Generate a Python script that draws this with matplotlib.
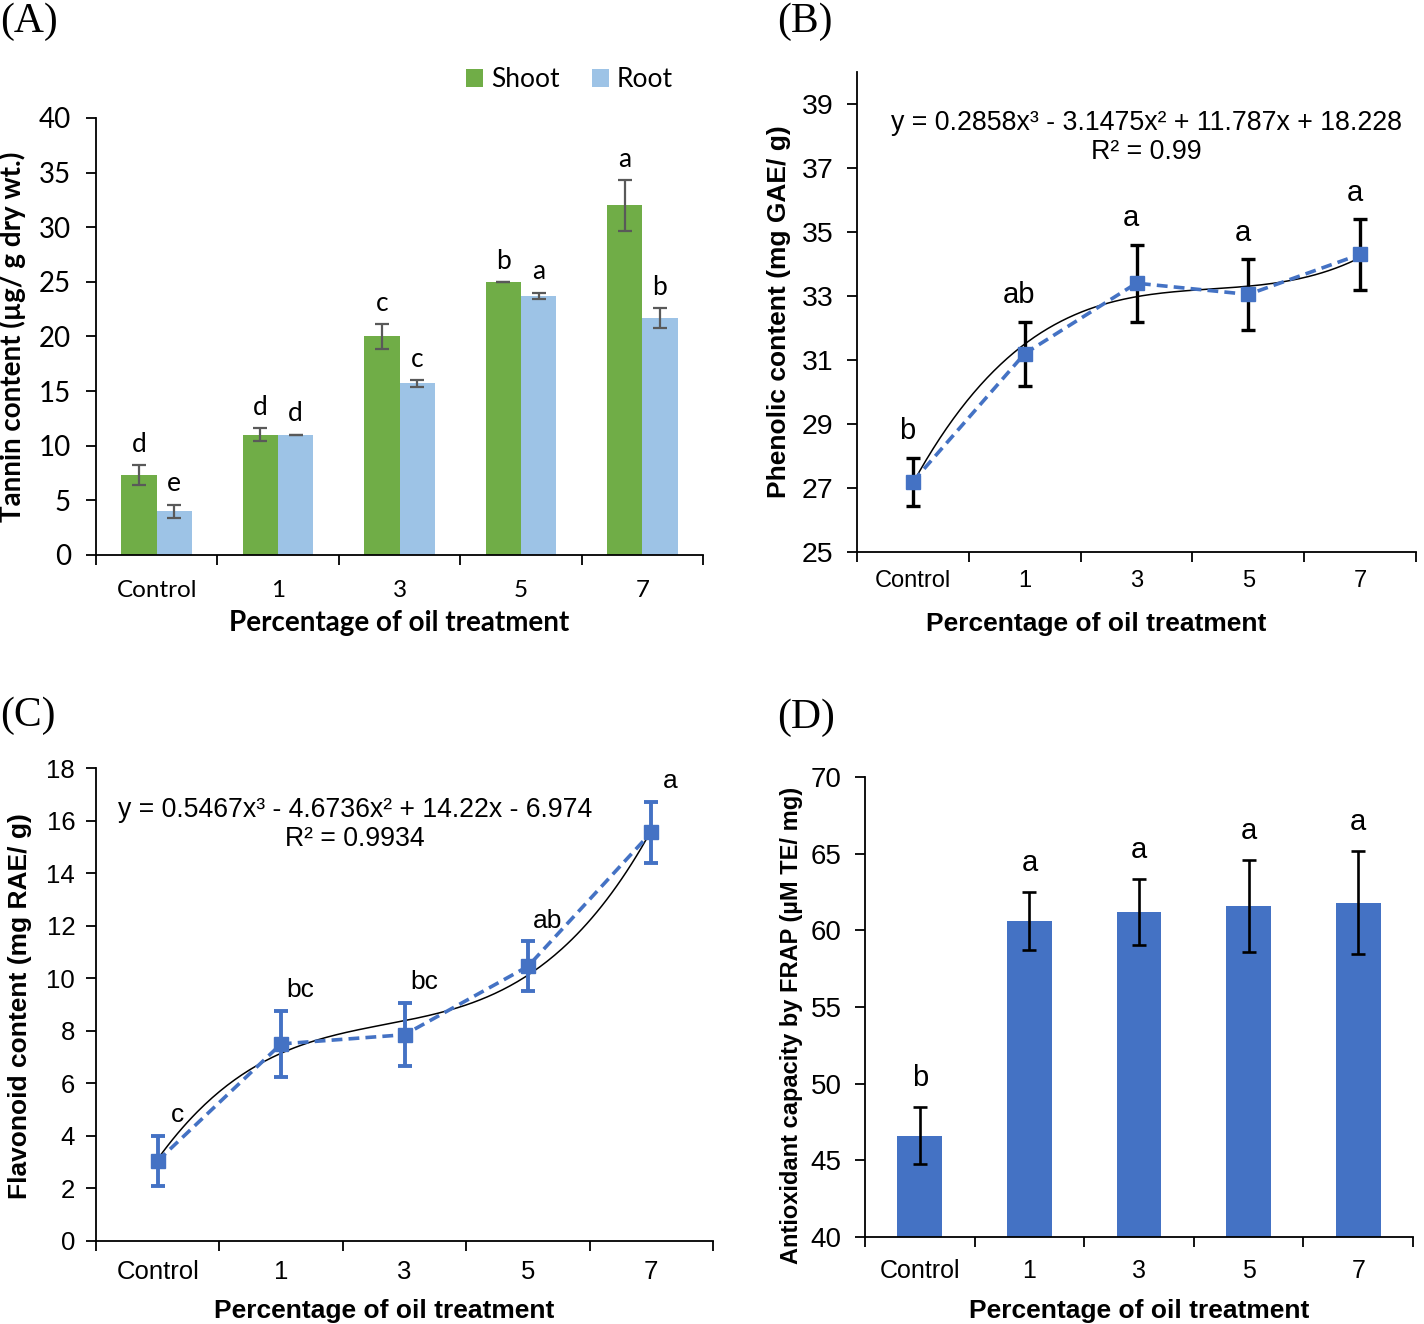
import numpy as np
import matplotlib.pyplot as plt

# ---------------- data ----------------
cats = ['Control', '1', '3', '5', '7']
trend_x = [1, 2, 3, 4, 5]  # excel trendline x (category index)

shoot_tannin = [7.3, 11.0, 20.0, 25.0, 32.0]
shoot_err = [0.9, 0.6, 1.1, 0.0, 2.3]
root_tannin = [4.0, 11.0, 15.7, 23.7, 21.7]
root_err = [0.6, 0.0, 0.3, 0.3, 0.9]
shoot_letters = ['d', 'd', 'c', 'b', 'a']
root_letters = ['e', 'd', 'c', 'a', 'b']

phenolic = [27.2, 31.2, 33.4, 33.05, 34.3]
phenolic_err = [0.75, 1.0, 1.2, 1.1, 1.1]
phenolic_letters = ['b', 'ab', 'a', 'a', 'a']
phenolic_fit = [0.2858, -3.1475, 11.787, 18.228]
phenolic_eq = 'y = 0.2858x³ - 3.1475x² + 11.787x + 18.228\nR² = 0.99'

flavonoid = [3.05, 7.5, 7.85, 10.45, 15.55]
flavonoid_err = [0.95, 1.25, 1.2, 0.95, 1.15]
flavonoid_letters = ['c', 'bc', 'bc', 'ab', 'a']
flavonoid_fit = [0.5467, -4.6736, 14.22, -6.974]
flavonoid_eq = 'y = 0.5467x³ - 4.6736x² + 14.22x - 6.974\nR² = 0.9934'

frap = [46.6, 60.6, 61.2, 61.6, 61.8]
frap_err = [1.85, 1.9, 2.15, 3.0, 3.35]
frap_letters = ['b', 'a', 'a', 'a', 'a']

GREEN = '#70AD47'
LBLUE = '#9DC3E6'
BLUE = '#4472C4'
ARIAL = 'Liberation Sans'
CALIBRI = 'Lato'

W, H = 1424, 1324
fig = plt.figure(figsize=(W / 100, H / 100), dpi=100)


def axes_px(l, t, r, b):
    return fig.add_axes([l / W, 1 - b / H, (r - l) / W, (b - t) / H])


def style(ax, font, xsize, ysize, ypad, xpad):
    n = len(cats)
    x = np.arange(n)
    for s in ['top', 'right']:
        ax.spines[s].set_visible(False)
    for s in ['left', 'bottom']:
        ax.spines[s].set_linewidth(1.3)
    ax.set_xlim(-0.5, n - 0.5)
    ax.set_xticks(x)
    ax.set_xticklabels(cats, fontsize=xsize, family=font)
    ax.set_xticks(np.arange(-0.5, n), minor=True)
    ax.tick_params(axis='x', which='major', length=0, pad=xpad)
    ax.tick_params(axis='x', which='minor', length=7, width=1.3)
    ax.tick_params(axis='y', length=7, width=1.3, pad=ypad, labelsize=ysize)
    return x


def yfont(ax, font):
    for lab in ax.get_yticklabels():
        lab.set_family(font)


# ---------------- (A) tannin ----------------
axA = axes_px(96, 118, 703, 555)
x = style(axA, CALIBRI, 17.5, 20, 11, 18)
bw = 0.29
axA.bar(x - bw / 2, shoot_tannin, bw, color=GREEN, label='Shoot')
axA.bar(x + bw / 2, root_tannin, bw, color=LBLUE, label='Root')
axA.errorbar(x - bw / 2, shoot_tannin, yerr=shoot_err, fmt='none', ecolor='#595959',
             elinewidth=1.6, capsize=5, capthick=1.6)
axA.errorbar(x + bw / 2, root_tannin, yerr=root_err, fmt='none', ecolor='#595959',
             elinewidth=1.6, capsize=5, capthick=1.6)
for i in range(len(cats)):
    axA.annotate(shoot_letters[i], (x[i] - bw / 2, shoot_tannin[i] + shoot_err[i]),
                 xytext=(0, 15), textcoords='offset points', ha='center', va='center',
                 fontsize=19, family=CALIBRI)
    axA.annotate(root_letters[i], (x[i] + bw / 2, root_tannin[i] + root_err[i]),
                 xytext=(0, 15), textcoords='offset points', ha='center', va='center',
                 fontsize=19, family=CALIBRI)
axA.set_ylim(0, 40)
axA.set_yticks(np.arange(0, 41, 5))
yfont(axA, CALIBRI)
axA.set_ylabel('Tannin content (µg/ g dry wt.)', fontsize=20, fontweight='bold', family=CALIBRI)
axA.yaxis.set_label_coords(-0.115, 0.5)
axA.set_xlabel('Percentage of oil treatment', fontsize=20, fontweight='bold', family=CALIBRI)
axA.xaxis.set_label_coords(0.5, -0.126)
axA.legend(loc='center', bbox_to_anchor=(0.78, 1.088), ncol=2, frameon=False,
           prop={'family': CALIBRI, 'size': 19}, handlelength=0.65, handleheight=0.65,
           handletextpad=0.3, columnspacing=1.2)

# ---------------- (B) phenolic ----------------
axB = axes_px(857, 72, 1416, 552)
x = style(axB, ARIAL, 17, 20.5, 10, 13)
tx = np.linspace(trend_x[0], trend_x[-1], 200)
axB.plot(tx - 1, np.polyval(phenolic_fit, tx), color='black', lw=1.1, zorder=2)
axB.errorbar(x, phenolic, yerr=phenolic_err, fmt='none', ecolor='black',
             elinewidth=2.4, capsize=5, capthick=2.4, zorder=3)
axB.plot(x, phenolic, color=BLUE, lw=2.6, ls='--', dashes=(3, 1.7), marker='s',
         markersize=10, zorder=4)
for i in range(len(cats)):
    axB.annotate(phenolic_letters[i], (x[i], phenolic[i] + phenolic_err[i]),
                 xytext=(-4, 19), textcoords='offset points', ha='center', va='center',
                 fontsize=21, family=ARIAL)
axB.set_ylim(25, 40)
axB.set_yticks(np.arange(25, 40, 2))
yfont(axB, ARIAL)
axB.text(0.518, 0.864, phenolic_eq, transform=axB.transAxes, ha='center', va='center',
         fontsize=19.3, family=ARIAL, linespacing=1.15)
axB.set_ylabel('Phenolic content (mg GAE/ g)', fontsize=19, fontweight='bold', family=ARIAL)
axB.yaxis.set_label_coords(-0.118, 0.5)
axB.set_xlabel('Percentage of oil treatment', fontsize=19, fontweight='bold', family=ARIAL)
axB.xaxis.set_label_coords(0.4275, -0.125)

# ---------------- (C) flavonoid ----------------
axC = axes_px(96, 768, 713, 1241)
x = style(axC, ARIAL, 18.5, 18.5, 8, 14)
axC.plot(tx - 1, np.polyval(flavonoid_fit, tx), color='black', lw=1.1, zorder=2)
axC.errorbar(x, flavonoid, yerr=flavonoid_err, fmt='none', ecolor=BLUE,
             elinewidth=2.8, capsize=5, capthick=2.8, zorder=3)
axC.plot(x, flavonoid, color=BLUE, lw=2.6, ls='--', dashes=(3, 1.7), marker='s',
         markersize=10, zorder=4)
for i in range(len(cats)):
    axC.annotate(flavonoid_letters[i], (x[i], flavonoid[i] + flavonoid_err[i]),
                 xytext=(14, 15), textcoords='offset points', ha='center', va='center',
                 fontsize=19, family=ARIAL)
axC.set_ylim(0, 18)
axC.set_yticks(np.arange(0, 19, 2))
yfont(axC, ARIAL)
axC.text(0.42, 0.88, flavonoid_eq, transform=axC.transAxes, ha='center', va='center',
         fontsize=19.2, family=ARIAL, linespacing=1.15)
axC.set_ylabel('Flavonoid content (mg RAE/ g)', fontsize=19, fontweight='bold', family=ARIAL)
axC.yaxis.set_label_coords(-0.104, 0.497)
axC.set_xlabel('Percentage of oil treatment', fontsize=19, fontweight='bold', family=ARIAL)
axC.xaxis.set_label_coords(0.467, -0.122)

# ---------------- (D) FRAP ----------------
axD = axes_px(865, 777, 1413, 1237)
x = style(axD, ARIAL, 18, 20, 10, 16)
axD.bar(x, frap, 0.41, color=BLUE)
axD.errorbar(x, frap, yerr=frap_err, fmt='none', ecolor='black',
             elinewidth=1.9, capsize=5, capthick=1.9)
for i in range(len(cats)):
    axD.annotate(frap_letters[i], (x[i], frap[i] + frap_err[i]),
                 xytext=(0, 21), textcoords='offset points', ha='center', va='center',
                 fontsize=21, family=ARIAL)
axD.set_ylim(40, 70)
axD.set_yticks(np.arange(40, 71, 5))
yfont(axD, ARIAL)
axD.set_ylabel('Antioxidant capacity by FRAP (µM TE/ mg)', fontsize=17, fontweight='bold',
               family=ARIAL)
axD.yaxis.set_label_coords(-0.113, 0.461)
axD.set_xlabel('Percentage of oil treatment', fontsize=19, fontweight='bold', family=ARIAL)
axD.xaxis.set_label_coords(0.5, -0.135)

# panel letters
for lab, px, py in [('(A)', 0, 22), ('(B)', 777, 22), ('(C)', 0, 716), ('(D)', 777, 718)]:
    fig.text(px / W, 1 - py / H, lab, ha='left', va='center', fontsize=30,
             family='Liberation Serif')

fig.savefig('out.png', dpi=100)
